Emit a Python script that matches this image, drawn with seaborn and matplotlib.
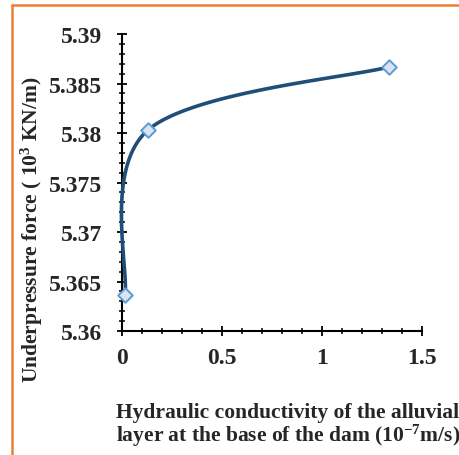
import numpy as np
import matplotlib
matplotlib.use("Agg")
import matplotlib.pyplot as plt
import seaborn as sns
from matplotlib.ticker import MultipleLocator, FuncFormatter
from matplotlib.lines import Line2D

sns.set_style("ticks")
plt.rcParams['font.family'] = ['Liberation Serif', 'DejaVu Serif']
plt.rcParams['font.weight'] = 'bold'
plt.rcParams['mathtext.fontset'] = 'custom'
plt.rcParams['mathtext.rm'] = 'Liberation Serif:bold'
plt.rcParams['mathtext.it'] = 'Liberation Serif:bold'
plt.rcParams['mathtext.bf'] = 'Liberation Serif:bold'

# data
conductivity = [0.015, 0.13, 1.335]
force = [5.3636, 5.3803, 5.38667]

line_color = '#1F4E79'
marker_face = '#DAE3F3'
marker_edge = '#5B9BD5'

fig = plt.figure(figsize=(4.59, 4.56), dpi=100)
ax = fig.add_axes([0.2658, 0.2719, 0.9187 - 0.2658, 0.9232 - 0.2719])
ax.set_xlim(0, 1.5)
ax.set_ylim(5.36, 5.39)

# smoothed line like the spreadsheet one (bezier in display space)
pts = ax.transData.transform(np.column_stack([conductivity, force]))
n = len(pts)
curve = []
for i in range(n - 1):
    p_prev = pts[i - 1] if i > 0 else pts[i]
    p_next = pts[i + 2] if i + 2 < n else pts[i + 1]
    p0, p3 = pts[i], pts[i + 1]
    c1 = p0 + (p3 - p_prev) / 6
    c2 = p3 - (p_next - p0) / 6
    t = np.linspace(0, 1, 60)[:, None]
    seg = (1 - t) ** 3 * p0 + 3 * (1 - t) ** 2 * t * c1 + 3 * (1 - t) * t ** 2 * c2 + t ** 3 * p3
    curve.append(seg)
curve = ax.transData.inverted().transform(np.vstack(curve))
ax.plot(curve[:, 0], curve[:, 1], color=line_color, lw=2.6, solid_capstyle='round',
        zorder=4, clip_on=False)

sns.scatterplot(x=conductivity, y=force, ax=ax, marker='D', s=55, clip_on=False,
                color=marker_face, edgecolor=marker_edge, linewidth=1.4, zorder=5)

ax.xaxis.set_major_locator(MultipleLocator(0.5))
ax.xaxis.set_minor_locator(MultipleLocator(0.1))
ax.yaxis.set_major_locator(MultipleLocator(0.005))
ax.yaxis.set_minor_locator(MultipleLocator(0.001))
ax.xaxis.set_major_formatter(FuncFormatter(lambda v, p: '%g' % v))
ax.yaxis.set_major_formatter(FuncFormatter(lambda v, p: '%g' % round(v, 4)))

ax.tick_params(which='major', direction='inout', length=7, width=1.3, labelsize=17, pad=8, color='black')
ax.tick_params(axis='y', which='major', pad=11)
ax.tick_params(which='minor', direction='inout', length=4.5, width=1.1, color='black')
for lab in ax.get_xticklabels() + ax.get_yticklabels():
    lab.set_fontweight('bold')

for s in ['top', 'right']:
    ax.spines[s].set_visible(False)
for s in ['left', 'bottom']:
    ax.spines[s].set_linewidth(1.5)
    ax.spines[s].set_color('black')

ax.set_xlabel('Hydraulic conductivity of the alluvial\nlayer at the base of the dam (10$^{-7}$m/s)',
              fontsize=15.5, fontweight='bold', linespacing=1.0)
ax.xaxis.set_label_coords(0.554, -0.316)
ax.xaxis.label.set_va('center')
ax.set_ylabel('Underpressure force ( 10$^{3}$ KN/m)', fontsize=15.5, fontweight='bold')
ax.yaxis.set_label_coords(-0.30, 0.343)
ax.yaxis.label.set_va('center')

# orange chart frame
fig.add_artist(Line2D([12 / 459, 1], [1 - 6 / 456, 1 - 6 / 456], transform=fig.transFigure, color='#ED7D31', lw=1.8))
fig.add_artist(Line2D([12 / 459, 12 / 459], [0, 1 - 6 / 456], transform=fig.transFigure, color='#ED7D31', lw=1.8))

fig.savefig('out.png', dpi=100)
